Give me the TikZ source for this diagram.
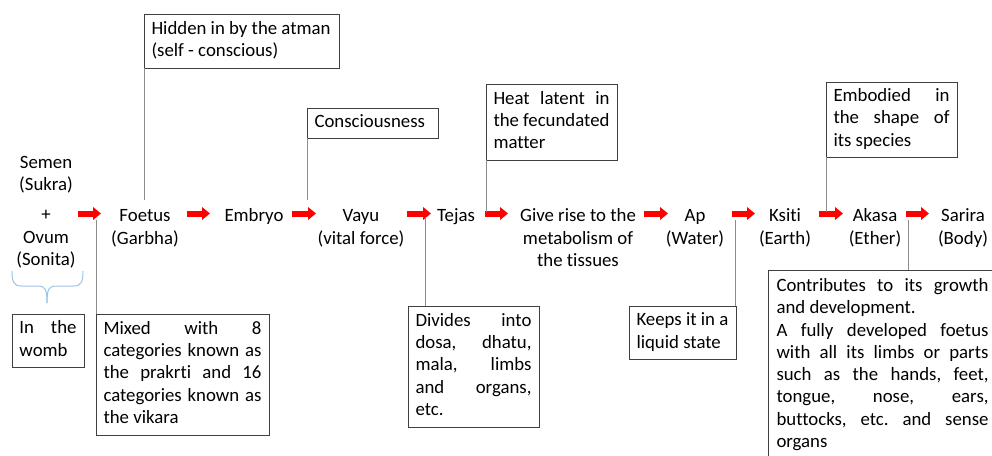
\documentclass[tikz,border=0pt]{standalone}
\usepackage{fontspec}
\setmainfont{Carlito}[Ligatures={NoCommon}]
\usetikzlibrary{arrows.meta}
\definecolor{boxcol}{HTML}{404040}
\definecolor{linecol}{HTML}{8C8C8C}
\definecolor{bracecol}{HTML}{9DC3E6}
\hyphenpenalty=10000
\exhyphenpenalty=10000
\tolerance=10000
\hbadness=10000
\frenchspacing
\tikzset{
  every node/.style={font=\fontsize{18.8}{22.3}\selectfont},
  infobox/.style={draw=boxcol, line width=0.9pt, anchor=north west, inner xsep=7.5pt, inner ysep=0pt, outer sep=0pt, align=justify},
  rowlabel/.style={align=center, inner sep=0pt, anchor=north},
  redarrow/.style={draw=red, line width=6pt, -{Triangle[length=8pt,width=12.5pt]}, red},
  callline/.style={draw=linecol, line width=0.9pt},
  bracepath/.style={draw=bracecol, line width=1pt}
}
\begin{document}
\begin{tikzpicture}[x=1pt,y=-1pt]
\useasboundingbox (0,0) rectangle (992,455);
\clip (0,0) rectangle (992,455);
% main row
\node[rowlabel] (semen) at (46,152.4) {\strut Semen\\(Sukra)\\[8pt]+\\Ovum\\(Sonita)};
\node[rowlabel] (foetus) at (145,205.9) {\strut Foetus\\(Garbha)};
\node[rowlabel] (embryo) at (254,205.9) {\strut Embryo};
\node[rowlabel] (vayu) at (361,205.9) {\strut Vayu\\(vital force)};
\node[rowlabel] (tejas) at (456,205.9) {\strut Tejas};
\node[rowlabel] (give) at (578,205.9) {\strut Give rise to the\\metabolism of\\the tissues};
\node[rowlabel] (ap) at (695,205.9) {\strut Ap\\(Water)};
\node[rowlabel] (ksiti) at (785,205.9) {\strut Ksiti\\(Earth)};
\node[rowlabel] (akasa) at (875,205.9) {\strut Akasa\\(Ether)};
\node[rowlabel] (sarira) at (963,205.9) {\strut Sarira\\(Body)};
% arrow end points
\coordinate (a1s) at (78,213.5);  \coordinate (a1e) at (101,213.5);
\coordinate (a2s) at (187,213.5); \coordinate (a2e) at (210,213.5);
\coordinate (a3s) at (292,213.5); \coordinate (a3e) at (316,213.5);
\coordinate (a4s) at (407,213.5); \coordinate (a4e) at (431,213.5);
\coordinate (a5s) at (485,213.5); \coordinate (a5e) at (508,213.5);
\coordinate (a6s) at (644,213.5); \coordinate (a6e) at (668,213.5);
\coordinate (a7s) at (732,213.5); \coordinate (a7e) at (755,213.5);
\coordinate (a8s) at (819,213.5); \coordinate (a8e) at (843,213.5);
\coordinate (a9s) at (906,213.5); \coordinate (a9e) at (929,213.5);
\foreach \i in {1,...,9} { \draw[redarrow] (a\i s) -- (a\i e); }
% top boxes
\node[infobox, text width=180pt, minimum height=54pt] (hid) at (144,14) {\strut Hidden~in~by~the~atman\\(self~-~conscious)\strut};
\node[infobox, text width=116pt, minimum height=30pt] (con) at (307,108) {\strut Consciousness};
\node[infobox, text width=116pt, minimum height=76pt] (heat) at (486,84) {\strut Heat~latent~in\linebreak the~fecundated\linebreak matter\strut};
\node[infobox, text width=116pt, minimum height=75pt] (emb) at (826,82) {\strut Embodied~in\linebreak the~shape~of\linebreak its~species\strut};
% bottom boxes
\node[infobox, text width=57pt, minimum height=53pt] (womb) at (12,314) {\strut In~the\linebreak womb\strut};
\node[infobox, text width=158pt, minimum height=121pt] (mix) at (96,314) {\strut Mixed~with~8\linebreak categories~known~as\linebreak the~prakrti~and~16\linebreak categories~known~as\linebreak the~vikara\strut};
\node[infobox, text width=116pt, minimum height=121pt] (div) at (408,306) {\strut Divides~into\linebreak dosa,~dhatu,\linebreak mala,~limbs\linebreak and~organs,\linebreak etc.\strut};
\node[infobox, text width=92pt, minimum height=53pt] (keep) at (629,306) {\strut Keeps~it~in~a\\liquid~state\strut};
\node[infobox, text width=212pt, inner xsep=8.5pt, minimum height=190pt] (contrib) at (768,270) {\strut Contributes~to~its~growth\linebreak and~development.\\A~fully~developed~foetus\linebreak with~all~its~limbs~or~parts\linebreak such~as~the~hands,~feet,\linebreak tongue,~nose,~ears,\linebreak buttocks,~etc.~and~sense\linebreak organs\strut};
% callout lines
\coordinate (c1) at (144,200);
\coordinate (c2) at (307,200);
\coordinate (c3) at (486,212);
\coordinate (c4) at (826,212);
\coordinate (c5) at (96,220);
\coordinate (c6) at (425,217);
\coordinate (c7) at (735,220);
\coordinate (c8) at (908,220);
\draw[callline] (hid.south west) -- (c1);
\draw[callline] (con.south west) -- (c2);
\draw[callline] (heat.south west) -- (c3);
\draw[callline] (emb.south west) -- (c4);
\draw[callline] (c5) -- (mix.north west);
\draw[callline] (c6) -- (c6 |- div.north);
\draw[callline] (c7) -- (c7 |- keep.north);
\draw[callline] (c8) -- (c8 |- contrib.north);
% brace under Semen + Ovum
\draw[bracepath] (12,271) .. controls (12,282) and (14,286) .. (21,286) -- (38,286) .. controls (45,286) and (47,289) .. (47,303);
\draw[bracepath] (83,271) .. controls (83,282) and (81,286) .. (74,286) -- (56,286) .. controls (49,286) and (47,289) .. (47,303);
\end{tikzpicture}
\end{document}
